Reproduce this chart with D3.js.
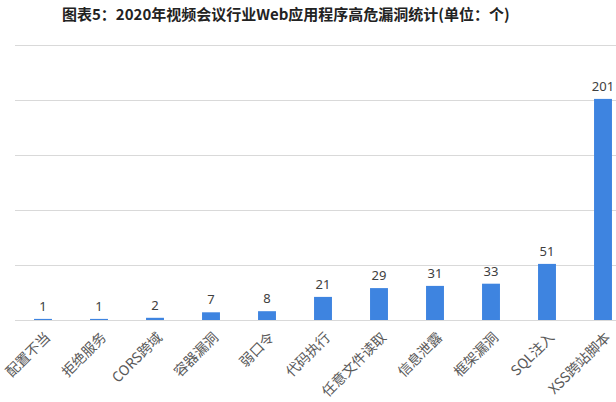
<!DOCTYPE html>
<html><head><meta charset="utf-8">
<script src="https://cdn.jsdelivr.net/npm/d3@7"></script>
<style>body{margin:0;background:#fff;}svg{display:block;}</style>
</head><body>
<svg id="c" width="616" height="402"></svg>
<script>
const title = "图表5：2020年视频会议行业Web应用程序高危漏洞统计(单位：个)";
const categories = ["配置不当","拒绝服务","CORS跨域","容器漏洞","弱口令","代码执行","任意文件读取","信息泄露","框架漏洞","SQL注入","XSS跨站脚本"];
const values = [1,1,2,7,8,21,29,31,33,51,201];
const yTicks = [0,50,100,150,200,250];

const svg = d3.select("#c");
const x = d3.scaleBand().domain(categories).range([15,631]).paddingInner(0.68).paddingOuter(0.34);
const y = d3.scaleLinear().domain([0,250]).range([320,45]);

svg.append("text").attr("x",62).attr("y",20)
  .attr("font-family","'Noto Sans CJK SC', sans-serif").attr("font-weight","bold")
  .attr("font-size",15).attr("fill","#222").text(title);

svg.append("g").selectAll("line").data(yTicks).join("line")
  .attr("x1",15).attr("x2",616)
  .attr("y1",d=>Math.round(y(d))+0.5).attr("y2",d=>Math.round(y(d))+0.5)
  .attr("stroke","#d9d9d9").attr("stroke-width",1);

svg.append("g").selectAll("rect").data(values).join("rect")
  .attr("x",(d,i)=>x(categories[i]))
  .attr("width",x.bandwidth())
  .attr("y",d=>y(d))
  .attr("height",d=>y(0)-y(d))
  .attr("fill","#3e84e0");

svg.append("g").selectAll("text").data(values).join("text")
  .attr("x",(d,i)=>x(categories[i])+x.bandwidth()/2)
  .attr("y",d=>y(d)-8)
  .attr("text-anchor","middle")
  .attr("font-family","'Noto Sans', 'Open Sans', sans-serif")
  .attr("font-size",13).attr("fill","#404040")
  .text(d=>d);

svg.append("g").selectAll("text").data(categories).join("text")
  .attr("transform",(d)=>`translate(${x(d)+x.bandwidth()/2+4},${334}) rotate(-45)`)
  .attr("text-anchor","end")
  .attr("dominant-baseline","central")
  .attr("font-family","'Noto Sans CJK SC', sans-serif")
  .attr("font-size",14).attr("fill","#595959")
  .text(d=>d);
</script>
</body></html>
